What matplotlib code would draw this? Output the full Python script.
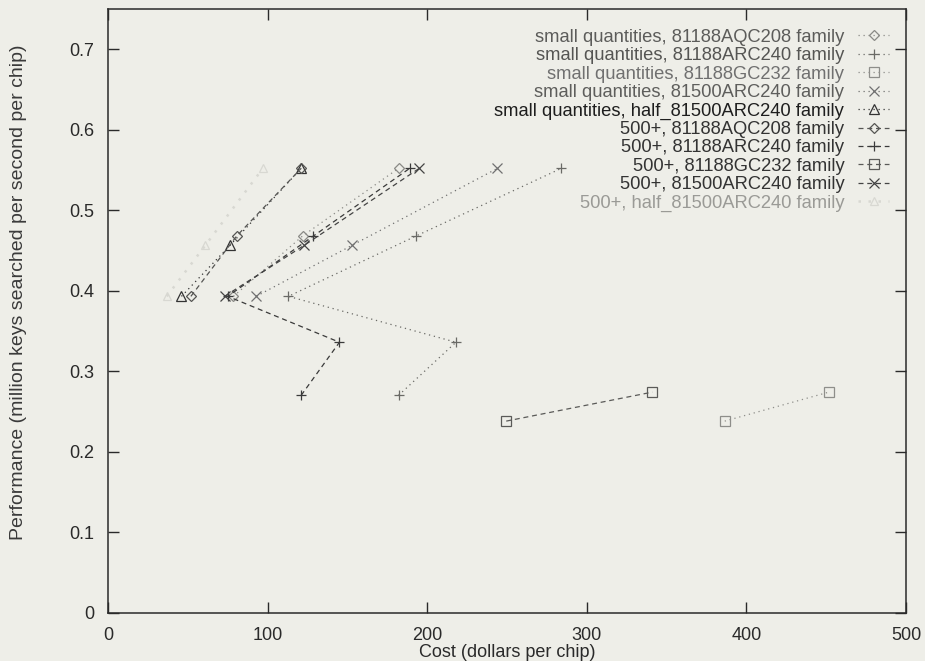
import matplotlib
matplotlib.use("Agg")
import matplotlib.pyplot as plt

plt.rcParams['font.family'] = ['Liberation Sans', 'DejaVu Sans']

## data
perf5 = [0.270, 0.336, 0.393, 0.468, 0.552]
perf3 = [0.393, 0.4565, 0.552]
perf3b = [0.393, 0.468, 0.552]
perf_gc = [0.238, 0.274]

labels = [
    "small quantities, 81188AQC208 family",
    "small quantities, 81188ARC240 family",
    "small quantities, 81188GC232 family",
    "small quantities, 81500ARC240 family",
    "small quantities, half_81500ARC240 family",
    "500+, 81188AQC208 family",
    "500+, 81188ARC240 family",
    "500+, 81188GC232 family",
    "500+, 81500ARC240 family",
    "500+, half_81500ARC240 family",
]
costs = [
    [78.6, 121.9, 182],
    [182, 218, 113, 193, 284],
    [386.4, 451.6],
    [92.8, 153, 244],
    [46, 76.5, 121],
    [51.9, 80.6, 121],
    [121, 145, 75, 128.7, 189],
    [249.5, 341],
    [73, 123, 195],
    [36.8, 61, 97],
]
perfs = [perf3b, perf5, perf_gc, perf3, perf3, perf3b, perf5, perf_gc, perf3, perf3]

# styles
markers = ['D', '+', 's', 'x', '^', 'D', '+', 's', 'x', '^']
colors = ['#8a8a86', '#6a6a66', '#8e8e8a', '#707070', '#333333',
          '#555553', '#3a3a3a', '#5a5a58', '#444444', '#d8d8d2']
textcol = ['#5c5c5a', '#555553', '#707070', '#5e5e5c', '#1e1e1e',
           '#333333', '#333333', '#333333', '#333333', '#9a9a96']
dotted = (0, (1, 3))
dashed = (0, (4, 3))
styles = [dotted] * 5 + [dashed] * 4 + [dotted]
msizes = [5, 7.5, 6.5, 7.5, 6.5, 5, 7.5, 6.5, 7.5, 6]
lwidths = [0.9] * 9 + [1.8]

bg = '#eeeee8'
fig = plt.figure(figsize=(9.25, 6.61), dpi=100, facecolor=bg)
ax = fig.add_axes([0.1168, 0.0731, 0.8627, 0.9133], facecolor=bg)

for i in range(len(labels)):
    ax.plot(costs[i], perfs[i], color=colors[i], linestyle=styles[i], linewidth=lwidths[i],
            marker=markers[i], markersize=msizes[i], markerfacecolor='none',
            markeredgecolor=colors[i], markeredgewidth=0.9, label=labels[i])

ax.set_xlim(0, 500)
ax.set_ylim(0, 0.75)
ax.set_xticks([0, 100, 200, 300, 400, 500])
ax.set_yticks([0, 0.1, 0.2, 0.3, 0.4, 0.5, 0.6, 0.7])
ax.set_yticklabels(['0', '0.1', '0.2', '0.3', '0.4', '0.5', '0.6', '0.7'])
ax.tick_params(direction='in', length=8, width=1, top=True, right=True,
               labelsize=13, colors='#2a2a2a', pad=10)
for s in ax.spines.values():
    s.set_color('#2a2a2a')
    s.set_linewidth(1.1)

ax.set_xlabel("Cost (dollars per chip)", fontsize=13, color='#2a2a2a', labelpad=0)
ax.set_ylabel("Performance (million keys searched per second per chip)", fontsize=14,
              color='#3a3a3a')
ax.yaxis.set_label_coords(-0.1015, 0.531)

leg = ax.legend(loc='upper right', bbox_to_anchor=(0.979, 0.967), frameon=False,
                markerfirst=False, fontsize=13.2, handlelength=1.7, handletextpad=0.75,
                labelspacing=0.075, borderpad=0, borderaxespad=0)
for t, c in zip(leg.get_texts(), textcol):
    t.set_color(c)

fig.savefig("out.png", dpi=100, facecolor=bg)
